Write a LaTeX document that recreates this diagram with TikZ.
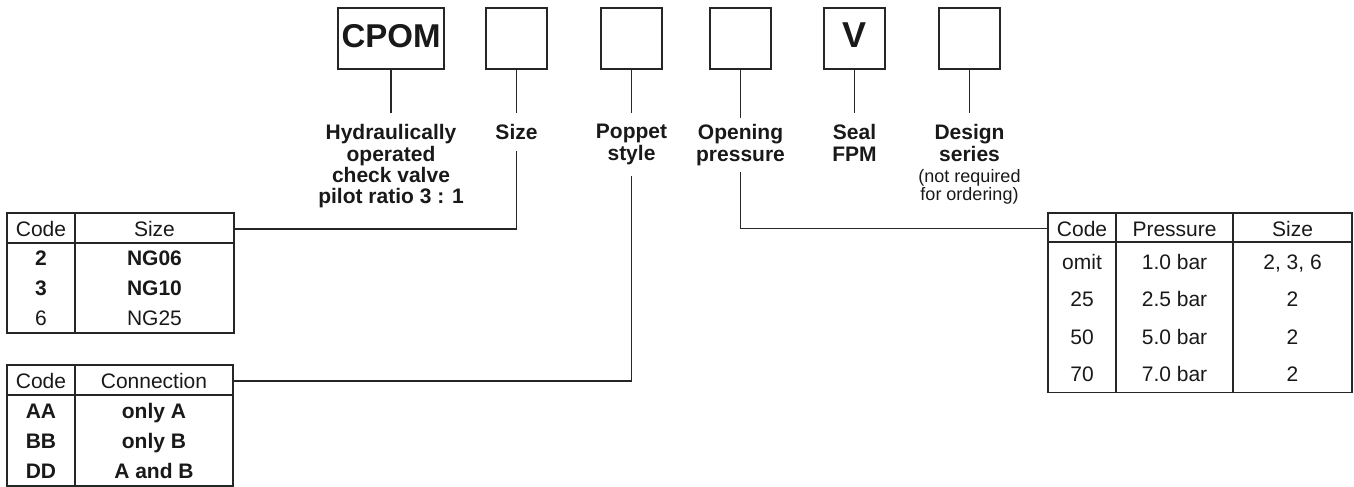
\documentclass[tikz,border=0pt]{standalone}
\usepackage{fontspec}
\setmainfont{Liberation Sans}
\begin{document}
\begin{tikzpicture}  [x=0.5pt, y=-0.5pt,
    codebox/.style={draw=black!85, line width=0.65pt, minimum width=30.5pt, minimum height=30.5pt, inner sep=0, text depth=3pt, text=black!90, font=\bfseries\fontsize{16.5}{16.5}\selectfont},
    caption/.style={anchor=north, align=center, inner xsep=0, inner ysep=5.5pt, text=black!90, font=\bfseries\fontsize{10.5}{10.7}\selectfont},
    note/.style={anchor=north, align=center, inner sep=0, text=black!90, font=\fontsize{9}{8.9}\selectfont},
    cell/.style={anchor=base, inner sep=0, text=black!90, font=\fontsize{10.5}{12}\selectfont},
    frame/.style={draw=black!85, line width=0.65pt},
    link/.style={draw=black!85, line width=0.6pt},
  ]

\useasboundingbox (0,0) rectangle (1354,487);

%code boxes
\node[codebox, minimum width=53pt] (cpom) at (391,38.5) {CPOM};
\node[codebox] (sizebox) at (516.5,38.5) {};
\node[codebox] (poppetbox) at (631.5,38.5) {};
\node[codebox] (pressbox) at (740.5,38.5) {};
\node[codebox, font=\bfseries\fontsize{18}{18}\selectfont] (sealbox) at (854.5,38.5) {V};
\node[codebox] (seriesbox) at (969.5,38.5) {};

%captions
\node[caption] (hyd) at (391,113) {Hydraulically\\operated\\check valve\\pilot ratio 3 : 1};
\node[caption] (size) at (516.5,113) {Size};
\node[caption] (poppet) at (631.5,113) {Poppet\\style};
\node[caption, inner ysep=3pt] (opening) at (740.5,118) {Opening\\pressure};
\node[caption] (seal) at (854.5,113) {Seal\\FPM};
\node[caption] (series) at (969.5,113) {Design\\series};
\node[note] (seriesnote) at (969.5,169.3) {(not required\\for ordering)};

\foreach \b/\c in {cpom/hyd, sizebox/size, poppetbox/poppet, pressbox/opening, sealbox/seal, seriesbox/series}
{
	\draw[link] (\b.south) -- (\c.north);
}

%table size
\draw[frame] (7,213) rectangle (234,333);
\draw[frame] (75,213) -- (75,333) (7,243) -- (234,243);
\node[cell] (szcode) at (41,236) {Code};
\node[cell] (szsize) at (154.5,236) {Size};
\foreach \c/\s/\y/\f in {2/NG06/265.5/\bfseries, 3/NG10/295.5/\bfseries, 6/NG25/325.5/\mdseries}
{
	\node[cell] (sz\c) at (41,\y) {\f \c};
	\node[cell] (szn\c) at (154.5,\y) {\f \s};
}
\coordinate (tabsize) at (234,229);

%table connection
\draw[frame] (7,365) rectangle (233,486);
\draw[frame] (75,365) -- (75,486) (7,395) -- (233,395);
\node[cell] (cncode) at (41,388.5) {Code};
\node[cell] (cnconn) at (154,388.5) {Connection};
\foreach \c/\s/\y in {AA/only A/418, BB/only B/448, DD/A and B/478.5}
{
	\node[cell, font=\bfseries\fontsize{10.5}{12}\selectfont] (cn\c) at (41,\y) {\c};
	\node[cell, font=\bfseries\fontsize{10.5}{12}\selectfont] (cnn\c) at (154,\y) {\s};
}
\coordinate (tabconn) at (233,381);

%table pressure
\draw[frame] (1048,213) rectangle (1352,392.7);
\draw[frame] (1116,213) -- (1116,392.7) (1233,213) -- (1233,392.7) (1048,242) -- (1352,242);
\node[cell] (prcode) at (1082,236) {Code};
\node[cell] (prpress) at (1174.5,236) {Pressure};
\node[cell] (prsize) at (1292.5,236) {Size};
\foreach \c/\p/\s/\y in {omit/1.0 bar/{2, 3, 6}/269, 25/2.5 bar/2/306.5, 50/5.0 bar/2/344, 70/7.0 bar/2/381.5}
{
	\node[cell] (pr\c) at (1082,\y) {\c};
	\node[cell] (prp\c) at (1174.5,\y) {\p};
	\node[cell] (prs\c) at (1292.5,\y) {\s};
}
\coordinate (tabpress) at (1048,228.5);

%links to tables
\draw[link] (size.south) |- (tabsize);
\draw[link] (poppet.south) |- (tabconn);
\draw[link] (opening.south) |- (tabpress);

\end{tikzpicture}
\end{document}
